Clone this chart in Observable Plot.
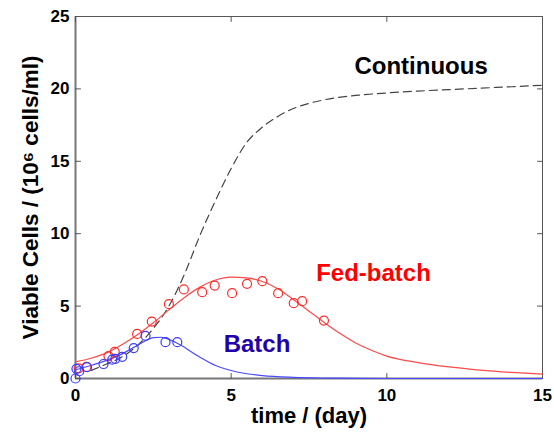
<!DOCTYPE html>
<html>
<head>
<meta charset="utf-8">
<script src="https://cdn.jsdelivr.net/npm/d3@7"></script>
<script src="https://cdn.jsdelivr.net/npm/@observablehq/plot@0.6"></script>
<style>
  html, body { margin: 0; padding: 0; background: #fff; }
</style>
</head>
<body>
<div id="chart"></div>
<script>
// Fed-batch measurements (red circles)
const fedX = [0.1, 0.35, 1.06, 1.26, 1.98, 2.45, 3.0, 3.48, 4.07, 4.47, 5.03, 5.51, 6.0, 6.51, 7.01, 7.28, 7.98];
const fedY = [0.7, 0.8, 1.55, 1.84, 3.08, 3.93, 5.13, 6.15, 5.96, 6.42, 5.89, 6.54, 6.72, 5.89, 5.2, 5.34, 4.0];
// Batch measurements (blue circles)
const batchX = [0, 0.03, 0.12, 0.37, 0.9, 1.18, 1.28, 1.5, 1.87, 2.25, 2.89, 3.27];
const batchY = [0, 0.67, 0.5, 0.78, 1.0, 1.3, 1.36, 1.5, 2.1, 2.95, 2.51, 2.51];
// Model curves
const fedCurveX = [0, 0.5, 1, 1.5, 2, 2.5, 3, 3.5, 4, 4.5, 5, 5.5, 6, 6.5, 7, 7.5, 8, 8.5, 9, 9.5, 10, 11, 12, 13, 14, 15];
const fedCurveY = [1.15, 1.4, 1.77, 2.35, 3.04, 3.85, 4.74, 5.6, 6.31, 6.8, 7.0, 6.95, 6.7, 6.2, 5.45, 4.65, 3.85, 3.1, 2.45, 1.95, 1.55, 1.1, 0.8, 0.58, 0.42, 0.3];
const batchCurveX = [0, 0.5, 1, 1.5, 2, 2.5, 2.75, 3, 3.25, 3.5, 3.75, 4, 4.5, 5, 5.5, 6, 7, 8, 9, 10, 15];
const batchCurveY = [0.6, 0.9, 1.25, 1.7, 2.3, 2.82, 2.85, 2.7, 2.45, 2.16, 1.8, 1.47, 0.9, 0.55, 0.33, 0.2, 0.08, 0.03, 0.01, 0, 0];
const contCurveX = [0.5, 1, 1.5, 2, 2.5, 3, 3.5, 4, 4.5, 5, 5.5, 6, 6.5, 7, 7.5, 8, 8.5, 9, 10, 11, 12, 13, 14, 15];
const contCurveY = [0.55, 1.0, 1.5, 2.3, 3.45, 5.0, 7.2, 9.9, 12.3, 14.5, 16.3, 17.35, 18.1, 18.65, 19.0, 19.25, 19.43, 19.55, 19.72, 19.85, 19.95, 20.05, 20.15, 20.25];
// Ticks and labels
const xTicks = [0, 5, 10, 15];
const yTicks = [0, 5, 10, 15, 20, 25];
const xLabel = "time / (day)";
const yLabel = "Viable Cells / (10\u2076 cells/ml)";
const seriesNames = ["Continuous", "Fed-batch", "Batch"];
const seriesLabelX = [8.96, 7.73, 4.76];
const seriesLabelY = [21.0, 6.7, 1.82];

const zip = (xs, ys) => xs.map((x, i) => ({x, y: ys[i]}));
const fedPts = zip(fedX, fedY);
const batchPts = zip(batchX, batchY);
const fedCurve = zip(fedCurveX, fedCurveY);
const batchCurve = zip(batchCurveX, batchCurveY);
const contCurve = zip(contCurveX, contCurveY);
const labels = seriesNames.map((name, i) => ({name, x: seriesLabelX[i], y: seriesLabelY[i]}));
const labelColors = {"Continuous": "#000000", "Fed-batch": "#ff0000", "Batch": "#2200aa"};

const font = "'Liberation Sans', Arial, Helvetica, sans-serif";
const tickShape = {draw(context, l) { context.moveTo(0, 0); context.lineTo(0, -l); }};
const tickOpts = {length: 5, anchor: "start", shape: tickShape, stroke: "#555", strokeWidth: 1};

const chart = Plot.plot({
  width: 554,
  height: 432,
  marginLeft: 75,
  marginRight: 12,
  marginTop: 16,
  marginBottom: 54,
  style: {fontFamily: font, fontWeight: "bold", fontSize: "17px", background: "#fff", color: "#000", overflow: "visible"},
  x: {domain: [0, 15]},
  y: {domain: [0, 25]},
  marks: [
    Plot.frame({stroke: "#555", strokeWidth: 1}),
    Plot.ruleY([0], {stroke: "#777", strokeWidth: 2}),
    Plot.ruleX([0], {stroke: "#777", strokeWidth: 2}),
    // inward ticks on all four sides
    Plot.vector(xTicks, {x: d => d, y: 0, rotate: 0, ...tickOpts}),
    Plot.vector(xTicks, {x: d => d, y: 25, rotate: 180, ...tickOpts}),
    Plot.vector(yTicks, {y: d => d, x: 0, rotate: 90, ...tickOpts}),
    Plot.vector(yTicks, {y: d => d, x: 15, rotate: -90, ...tickOpts}),
    // tick labels
    Plot.axisX({anchor: "bottom", ticks: xTicks, tickSize: 0, tickPadding: 10, label: null, fontSize: 17, fontWeight: "bold"}),
    Plot.axisY({anchor: "left", ticks: yTicks, tickSize: 0, tickPadding: 6, label: null, fontSize: 17, fontWeight: "bold"}),
    // curves
    Plot.line(contCurve, {x: "x", y: "y", curve: "monotone-x", stroke: "#444", strokeWidth: 1.2, strokeDasharray: "8,5"}),
    Plot.line(batchCurve, {x: "x", y: "y", curve: "monotone-x", stroke: "#4a4aff", strokeWidth: 1.2}),
    Plot.line(fedCurve, {x: "x", y: "y", curve: "monotone-x", stroke: "#ff4a4a", strokeWidth: 1.2}),
    Plot.dot(fedPts, {x: "x", y: "y", r: 4.5, stroke: "#ff2a2a", strokeWidth: 1.2, fill: "none"}),
    Plot.dot(batchPts, {x: "x", y: "y", r: 4.5, stroke: "#3a3aff", strokeWidth: 1.2, fill: "none"}),
    // series labels
    Plot.text(labels, {x: "x", y: "y", text: "name", fill: d => labelColors[d.name], textAnchor: "start", lineAnchor: "bottom", fontSize: 24, fontWeight: "bold"}),
    // axis titles
    Plot.text([xLabel], {frameAnchor: "bottom", dy: 44, lineAnchor: "bottom", fontSize: 22, fontWeight: "bold", fill: "#000"}),
    Plot.text([yLabel], {frameAnchor: "left", rotate: -90, dx: -38, textAnchor: "middle", lineAnchor: "bottom", fontSize: 22.5, fontWeight: "bold", fill: "#000"})
  ]
});
document.getElementById("chart").appendChild(chart);
</script>
</body>
</html>
